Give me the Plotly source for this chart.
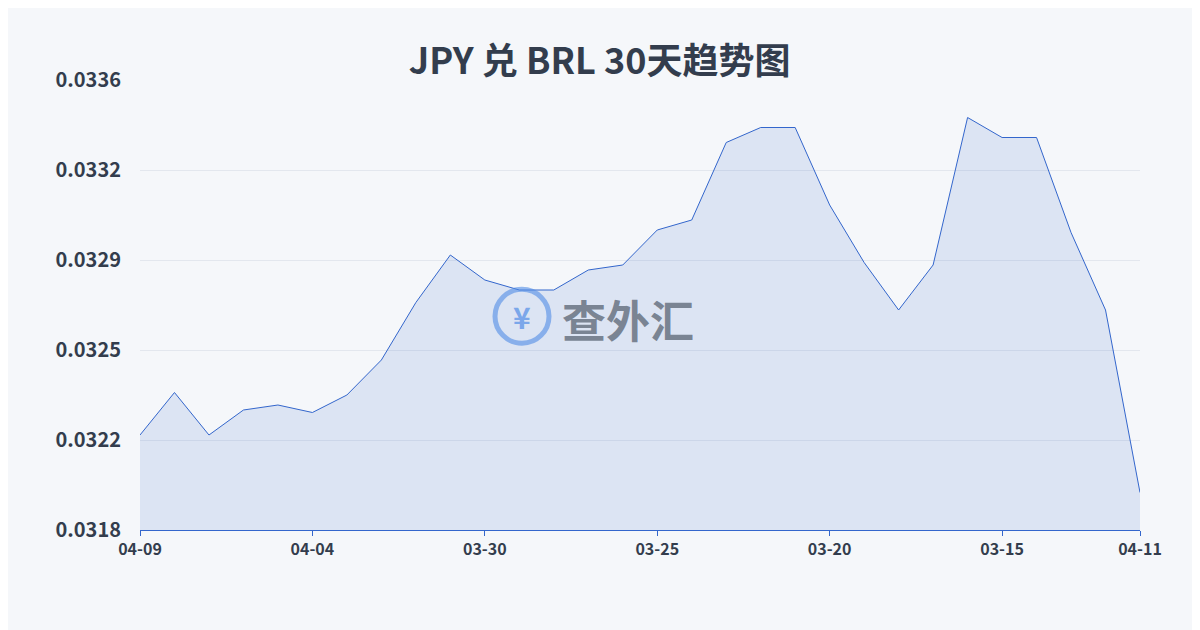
import plotly.graph_objects as go

dates = ['04-09', '04-08', '04-07', '04-06', '04-05', '04-04', '04-03', '04-02', '04-01', '03-31',
         '03-30', '03-29', '03-28', '03-27', '03-26', '03-25', '03-24', '03-23', '03-22', '03-21',
         '03-20', '03-19', '03-18', '03-17', '03-16', '03-15', '03-14', '03-13', '03-12', '04-11']
rates = [0.03218, 0.03235, 0.03218, 0.03228, 0.03230, 0.03227, 0.03234, 0.03248, 0.03271, 0.03290,
         0.03280, 0.03276, 0.03276, 0.03284, 0.03286, 0.03300, 0.03304, 0.03335, 0.03341, 0.03341,
         0.03310, 0.03287, 0.03268, 0.03286, 0.03345, 0.03337, 0.03337, 0.03299, 0.03268, 0.03195]
tick_vals = [0.0318 + 0.00036 * k for k in range(6)]
tick_text = ['0.0318', '0.0322', '0.0325', '0.0329', '0.0332', '0.0336']
x_ticks = ['04-09', '04-04', '03-30', '03-25', '03-20', '03-15', '04-11']

fig = go.Figure(go.Scatter(x=dates, y=rates, mode='lines', fill='tozeroy',
                           line=dict(color='#3366cc', width=1),
                           fillcolor='rgba(51,102,204,0.13)'))
fig.update_layout(
    width=1200, height=630, paper_bgcolor='#f5f7fa', plot_bgcolor='#f5f7fa',
    margin=dict(l=132, r=68, t=72, b=108), showlegend=False,
    title=dict(text='<b>JPY 兑 BRL 30天趋势图</b>', x=0.493, y=0.935, xanchor='center',
               font=dict(size=36, color='#333d4d', family='Noto Sans CJK SC')),
    font=dict(family='Noto Sans CJK SC', color='#333d4d'),
)
fig.update_xaxes(type='category', tickvals=x_ticks, ticktext=['<b>%s</b>' % t for t in x_ticks],
                 showgrid=False, range=[0, 29],
                 showline=True, linecolor='#3366cc', ticks='outside', tickcolor='#3366cc',
                 tickfont=dict(size=16, color='#333d4d', family='Noto Sans CJK SC'))
fig.update_yaxes(range=[0.0318, 0.0336], tickvals=tick_vals,
                 ticktext=['<b>%s</b>' % t for t in tick_text], ticklabelstandoff=18,
                 gridcolor='#e3e7ee', zeroline=False,
                 tickfont=dict(size=20, color='#333d4d', family='Noto Sans CJK SC'))
fig.add_annotation(text='<b>查外汇</b>', x=0.42, y=0.47, xref='paper', yref='paper',
                   xanchor='left', showarrow=False,
                   font=dict(size=44, color='rgba(90,100,115,0.75)', family='Noto Sans CJK SC'))
fig.add_shape(type='circle', xref='paper', yref='paper', xsizemode='pixel', ysizemode='pixel',
              xanchor=0.382, yanchor=0.475, x0=-27, x1=27, y0=-27, y1=27,
              line=dict(color='rgba(80,140,230,0.6)', width=5))
fig.add_annotation(text='<b>¥</b>', x=0.382, y=0.475, xref='paper', yref='paper', showarrow=False,
                   font=dict(size=30, color='rgba(80,140,230,0.7)'))
fig.write_html('out.html')
